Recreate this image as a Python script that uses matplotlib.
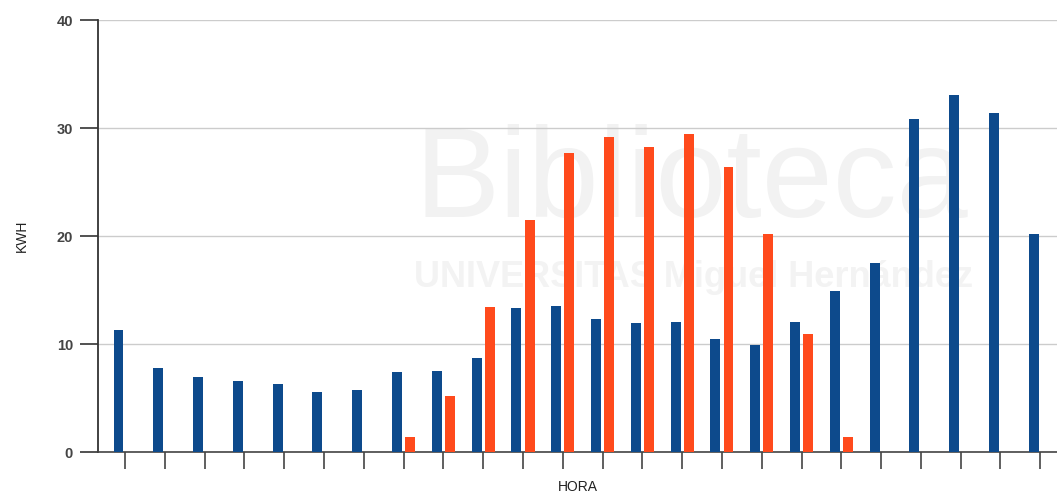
import matplotlib.pyplot as plt
import numpy as np

plt.rcParams['font.family'] = ['Liberation Sans', 'DejaVu Sans']

# datos (kWh por hora)
horas = list(range(24))
consumo = [11.3, 7.8, 6.9, 6.6, 6.3, 5.6, 5.7, 7.4, 7.5, 8.7, 13.3, 13.5,
           12.3, 11.9, 12.0, 10.5, 9.9, 12.0, 14.9, 17.5, 30.8, 33.1, 31.4, 20.2]
produccion = [0, 0, 0, 0, 0, 0, 0, 1.4, 5.2, 13.4, 21.5, 27.7,
              29.2, 28.2, 29.4, 26.4, 20.2, 10.9, 1.4, 0, 0, 0, 0, 0]
yticks = [0, 10, 20, 30, 40]

azul = '#0d4a8c'
naranja = '#ff4a1c'

fig = plt.figure(figsize=(10.57, 4.93), dpi=100)
ax = fig.add_axes([98 / 1057, 1 - 452 / 493, 1 - 98 / 1057, (452 - 20) / 493])

x = np.array(horas)
off = 0.165
w = 0.25
ax.bar(x - off, consumo, width=w, color=azul, zorder=3)
prod = np.array(produccion, dtype=float)
mask = prod > 0
ax.bar(x[mask] + off, prod[mask], width=w, color=naranja, zorder=3)

# marca de agua (muy tenue)
ax.text(0.33, 0.62, 'Biblioteca', transform=ax.transAxes, fontsize=92,
        color='#f2f2f2', zorder=0, va='center', ha='left')
ax.text(0.33, 0.405, 'UNIVERSITAS Miguel Hernández', transform=ax.transAxes,
        fontsize=26, fontweight='bold', color='#f3f3f3', zorder=0,
        va='center', ha='left')

ax.set_xlim(-0.68, 23.42)
ax.set_ylim(0, 40)
ax.set_yticks(yticks)
ax.set_yticklabels([str(v) for v in yticks], fontweight='bold', fontsize=10.5, color='#444444')
ax.set_xticks(horas)
ax.set_xticklabels([])

ax.tick_params(axis='y', length=13, width=1.2, color='#333333', pad=5)
ax.tick_params(axis='x', length=12.5, width=1.2, color='#444444', direction='out', pad=0)

ax.grid(axis='y', color='#cccccc', linewidth=1, zorder=0)
ax.set_axisbelow(True)
for s in ['top', 'right']:
    ax.spines[s].set_visible(False)
ax.spines['left'].set_color('#333333')
ax.spines['left'].set_linewidth(1.3)
ax.spines['bottom'].set_color('#444444')
ax.spines['bottom'].set_linewidth(1.2)

ax.set_ylabel('KWH', fontsize=10, color='#222222', labelpad=20)
ax.set_xlabel('HORA', fontsize=10, color='#222222', labelpad=8)

plt.savefig('out.png', dpi=100)
